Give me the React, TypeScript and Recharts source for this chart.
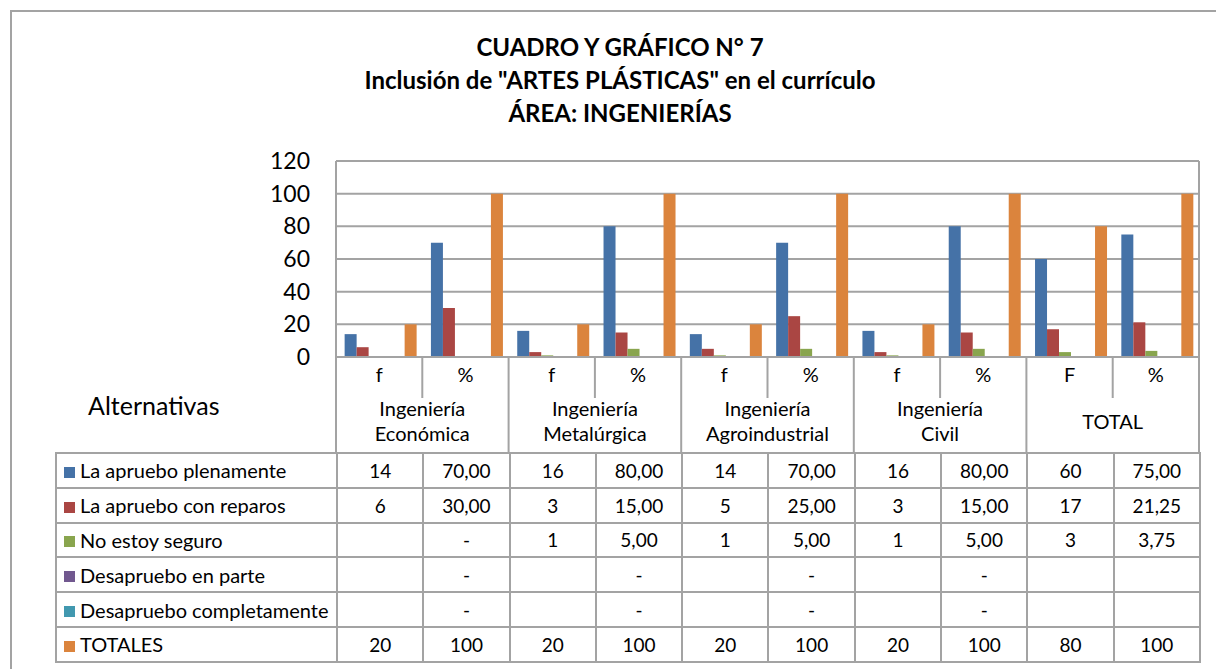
import React from 'react';
import { BarChart, Bar, XAxis, YAxis, CartesianGrid } from 'recharts';

// categorías del eje X (fila f / % y grupos)
const subLabels = ['f', '%', 'f', '%', 'f', '%', 'f', '%', 'F', '%'];
const groupLabels = [
  'Ingeniería\nEconómica',
  'Ingeniería\nMetalúrgica',
  'Ingeniería\nAgroindustrial',
  'Ingeniería\nCivil',
  'TOTAL',
];

// series (null = celda vacía, 0 = "-")
const plenamente = [14, 70, 16, 80, 14, 70, 16, 80, 60, 75];
const conReparos = [6, 30, 3, 15, 5, 25, 3, 15, 17, 21.25];
const noSeguro = [null, 0, 1, 5, 1, 5, 1, 5, 3, 3.75];
const enParte = [null, 0, null, 0, null, 0, null, 0, null, null];
const completamente = [null, 0, null, 0, null, 0, null, 0, null, null];
const totales = [20, 100, 20, 100, 20, 100, 20, 100, 80, 100];

const seriesNames = [
  'La apruebo plenamente',
  'La apruebo con reparos',
  'No estoy seguro',
  'Desapruebo en parte',
  'Desapruebo completamente',
  'TOTALES',
];
const seriesValues = [plenamente, conReparos, noSeguro, enParte, completamente, totales];
const colors = ['#4572A7', '#AA4643', '#89A54E', '#71588F', '#4198AF', '#DB843D'];

const yTicks = [0, 20, 40, 60, 80, 100, 120];

const data = subLabels.map((s, i) => {
  const row: Record<string, any> = { id: `c${i}` };
  seriesValues.forEach((vals, k) => {
    row[`s${k}`] = vals[i];
  });
  return row;
});

const W = 1216;
const H = 669;
const PLOT_LEFT = 336;
const PLOT_TOP = 161;
const PLOT_RIGHT = 1199;
const PLOT_BOTTOM = 357;
const YAXIS_W = 60;
const SUB_H = 41;
const GROUP_H = 55;
const BAND = (PLOT_RIGHT - PLOT_LEFT) / subLabels.length;
const LINE = '#a3a3a3';
const FONT = 'Lato, "Open Sans", sans-serif';

const fmt = (v: number | null, col: number, serie: number) => {
  if (v === null) return '';
  if (v === 0) return '-';
  if (serie === 5 || col % 2 === 0) return String(v);
  return v.toFixed(2).replace('.', ',');
};

const SubTick = (props: any) => {
  const { x, y, index } = props;
  return (
    <g>
      <text x={x} y={y + 25} textAnchor="middle" fontSize={20} fontFamily={FONT} fill="#000">
        {subLabels[index]}
      </text>
      {index % 2 === 1 && (
        <line x1={x - BAND / 2} x2={x - BAND / 2} y1={y} y2={y + SUB_H} stroke={LINE} strokeWidth={2} />
      )}
    </g>
  );
};

const GroupTick = (props: any) => {
  const { x, y, index } = props;
  if (index % 2 === 1) return <g />;
  const lines = groupLabels[index / 2].split('\n');
  const cx = x + BAND / 2;
  const last = index === subLabels.length - 2;
  return (
    <g>
      <line x1={x - BAND / 2} x2={x - BAND / 2} y1={y - SUB_H} y2={y + GROUP_H} stroke={LINE} strokeWidth={2} />
      {last && (
        <line x1={x + BAND * 1.5} x2={x + BAND * 1.5} y1={y - SUB_H} y2={y + GROUP_H} stroke={LINE} strokeWidth={2} />
      )}
      {lines.map((t, i) => (
        <text
          key={i}
          x={cx}
          y={lines.length === 1 ? y + 31 : y + 18 + i * 25}
          textAnchor="middle"
          fontSize={20}
          fontFamily={FONT}
          fill="#000"
        >
          {t}
        </text>
      ))}
    </g>
  );
};

const App: React.FC = () => {
  const cell: React.CSSProperties = {
    border: `2px solid ${LINE}`,
    height: 32.8,
    padding: 0,
    textAlign: 'center',
    fontSize: 19,
  };
  return (
    <div style={{ position: 'absolute', left: 0, top: 0, width: W, height: H, overflow: 'hidden', background: '#fff', fontFamily: FONT }}>
      <div style={{ position: 'absolute', left: 10, top: 10, width: W, height: H, borderLeft: `2px solid ${LINE}`, borderTop: `2px solid ${LINE}` }} />
      <div style={{ position: 'absolute', left: 220, top: 30, width: 800, textAlign: 'center', fontWeight: 700, fontSize: 24, lineHeight: '33px', color: '#000' }}>
        <div>CUADRO Y GRÁFICO N° 7</div>
        <div>Inclusión de "ARTES PLÁSTICAS" en el currículo</div>
        <div>ÁREA: INGENIERÍAS</div>
      </div>
      <BarChart
        width={W}
        height={H}
        data={data}
        barCategoryGap="10%"
        barGap={0}
        margin={{
          top: PLOT_TOP,
          left: PLOT_LEFT - YAXIS_W,
          right: W - PLOT_RIGHT,
          bottom: H - PLOT_BOTTOM - SUB_H - GROUP_H,
        }}
        style={{ position: 'absolute', left: 0, top: 0 }}
      >
        <CartesianGrid
          stroke={LINE}
          strokeWidth={2}
          verticalCoordinatesGenerator={({ offset }: any) => [offset.left, offset.left + offset.width]}
        />
        <XAxis
          dataKey="id"
          height={SUB_H}
          interval={0}
          tickLine={false}
          tickSize={0}
          tickMargin={0}
          axisLine={{ stroke: LINE, strokeWidth: 2 }}
          tick={<SubTick />}
        />
        <XAxis
          xAxisId="grp"
          dataKey="id"
          height={GROUP_H}
          interval={0}
          tickLine={false}
          tickSize={0}
          tickMargin={0}
          axisLine={false}
          tick={<GroupTick />}
        />
        <YAxis
          width={YAXIS_W}
          domain={[0, 120]}
          ticks={yTicks}
          interval={0}
          tickLine={false}
          tickSize={0}
          tickMargin={26}
          axisLine={{ stroke: LINE, strokeWidth: 2 }}
          tick={{ fontSize: 23, fontFamily: FONT, fill: '#000' }}
        />
        {seriesNames.map((n, k) => (
          <Bar key={n} dataKey={`s${k}`} name={n} fill={colors[k]} isAnimationActive={false} />
        ))}
      </BarChart>
      <div style={{ position: 'absolute', left: 88, top: 390, fontSize: 25, color: '#000' }}>Alternativas</div>
      <table
        style={{
          position: 'absolute',
          left: 55,
          top: 452,
          borderCollapse: 'collapse',
          tableLayout: 'fixed',
          width: PLOT_RIGHT - 55 + 1,
          color: '#000',
          fontFamily: FONT,
        }}
      >
        <colgroup>
          <col style={{ width: PLOT_LEFT - 55 }} />
          {subLabels.map((_, i) => (
            <col key={i} style={{ width: BAND }} />
          ))}
        </colgroup>
        <tbody>
          {seriesNames.map((n, k) => (
            <tr key={n}>
              <td style={{ ...cell, textAlign: 'left', paddingLeft: 7, whiteSpace: 'nowrap', fontSize: 20 }}>
                <span style={{ display: 'inline-block', width: 11, height: 11, background: colors[k], marginRight: 5, verticalAlign: 'middle', position: 'relative', top: -1 }} />
                {n}
              </td>
              {seriesValues[k].map((v, i) => (
                <td key={i} style={cell}>
                  {fmt(v, i, k)}
                </td>
              ))}
            </tr>
          ))}
        </tbody>
      </table>
    </div>
  );
};

export default App;
